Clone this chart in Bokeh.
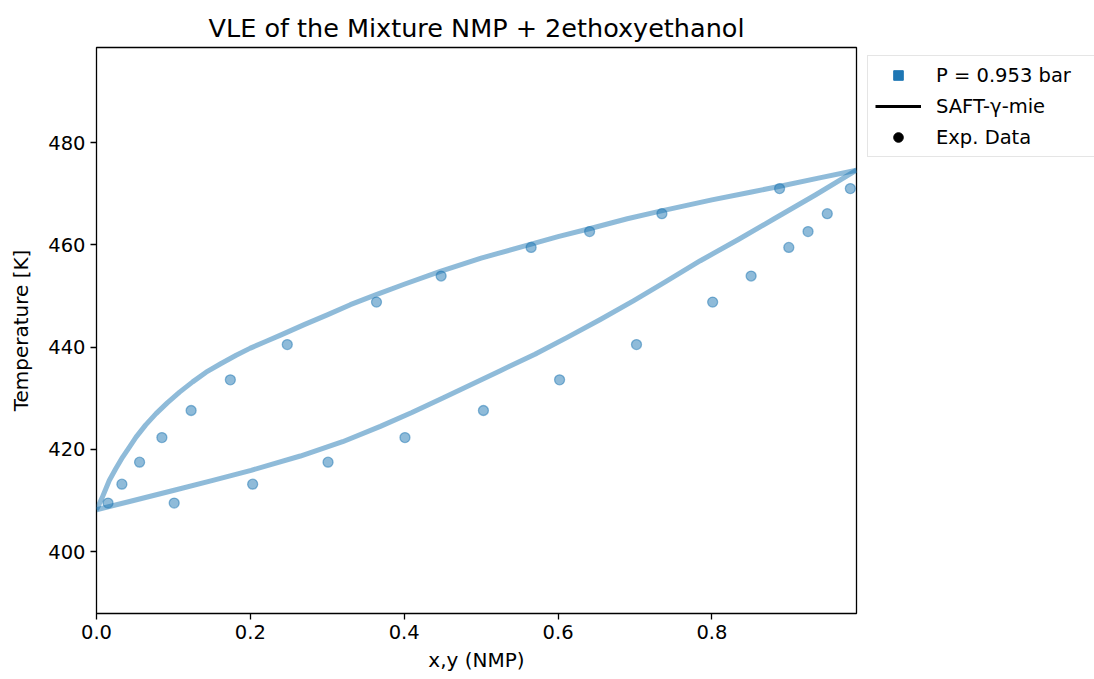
from bokeh.plotting import figure
from bokeh.layouts import row
from bokeh.models import Legend, LegendItem, FixedTicker, PrintfTickFormatter, Range1d
from bokeh.embed import file_html
from bokeh.resources import INLINE

# ---- data ----
# SAFT-gamma-Mie bubble curve (liquid composition x)
bubble_x = [0.0, 0.043, 0.101, 0.15, 0.201, 0.265, 0.32, 0.369, 0.41, 0.451, 0.525,
            0.57, 0.612, 0.655, 0.6985, 0.74, 0.785, 0.835, 0.881, 0.935, 0.988]
bubble_T = [408.2, 409.8, 412.0, 413.9, 415.9, 418.7, 421.5, 424.5, 427.2, 430.1, 435.4,
            438.6, 441.9, 445.4, 449.1, 452.8, 456.9, 461.1, 465.1, 469.8, 474.6]
# SAFT-gamma-Mie dew curve (vapour composition y)
dew_y = [0.0, 0.0036, 0.008, 0.0166, 0.025, 0.034, 0.043, 0.0514, 0.064, 0.0774, 0.092,
         0.108, 0.125, 0.1425, 0.162, 0.1815, 0.2, 0.22, 0.24, 0.27, 0.3, 0.33, 0.3646,
         0.4, 0.447, 0.5, 0.564, 0.6, 0.642, 0.69, 0.733, 0.8, 0.85, 0.887, 0.94, 0.988]
dew_T = [408.2, 409.3, 410.8, 413.9, 416.2, 418.5, 420.5, 422.4, 424.8, 427.0, 429.1,
         431.2, 433.2, 435.1, 436.8, 438.4, 439.8, 441.1, 442.4, 444.4, 446.3, 448.3, 450.3,
         452.3, 454.8, 457.4, 460.1, 461.6, 463.2, 465.1, 466.6, 468.8, 470.3, 471.4, 473.1, 474.6]
# experimental data
exp_T = [409.5, 413.2, 417.5, 422.3, 427.6, 433.6, 440.5, 448.8, 453.9, 459.5, 462.6, 466.1, 471.0]
exp_x = [0.101, 0.203, 0.301, 0.401, 0.503, 0.602, 0.702, 0.801, 0.851, 0.900, 0.925, 0.950, 0.980]
exp_y = [0.015, 0.033, 0.056, 0.085, 0.123, 0.174, 0.248, 0.364, 0.448, 0.565, 0.641, 0.735, 0.888]

legend_labels = ["P = 0.953 bar", "SAFT-γ-mie", "Exp. Data"]
x_ticks = [0.0, 0.2, 0.4, 0.6, 0.8]
y_ticks = [400, 420, 440, 460, 480]

C0 = "#1f77b4"
FONT = "DejaVu Sans"
FS = "19.5px"

p = figure(width=860, height=679, output_backend="svg", toolbar_location=None,
           x_range=Range1d(0.0, 0.988), y_range=Range1d(387.9, 498.6),
           min_border_left=96, min_border_right=4, min_border_top=47, min_border_bottom=66,
           title="VLE of the Mixture NMP + 2ethoxyethanol")

p.title.align = "center"
p.title.text_font = FONT
p.title.text_font_size = "25.5px"
p.title.text_font_style = "normal"
p.title.text_color = "black"
p.title.standoff = 10

p.xgrid.visible = False
p.ygrid.visible = False
p.outline_line_color = "black"
p.outline_line_width = 1.3
p.outline_line_alpha = 1.0
p.background_fill_color = "white"
p.border_fill_color = "white"

for ax in (p.xaxis[0], p.yaxis[0]):
    ax.axis_line_color = None
    ax.major_tick_line_color = "black"
    ax.major_tick_line_width = 1.3
    ax.major_tick_out = 6
    ax.major_tick_in = 0
    ax.minor_tick_line_color = None
    ax.major_label_text_font = FONT
    ax.major_label_text_font_size = FS
    ax.major_label_text_color = "black"
    ax.axis_label_text_font = FONT
    ax.axis_label_text_font_size = "20px"
    ax.axis_label_text_font_style = "normal"
    ax.axis_label_text_color = "black"

p.xaxis.ticker = FixedTicker(ticks=x_ticks)
p.xaxis.formatter = PrintfTickFormatter(format="%.1f")
p.yaxis.ticker = FixedTicker(ticks=y_ticks)
p.xaxis.axis_label = "x,y (NMP)"
p.yaxis.axis_label = "Temperature [K]"
p.xaxis.major_label_standoff = 5
p.yaxis.major_label_standoff = 5
p.xaxis.axis_label_standoff = 6
p.yaxis.axis_label_standoff = 12

# curves
p.line(bubble_x, bubble_T, line_color=C0, line_alpha=0.5, line_width=5, line_join="round")
p.line(dew_y, dew_T, line_color=C0, line_alpha=0.5, line_width=5, line_join="round")

# experimental points
p.scatter(exp_x, exp_T, marker="circle", size=10, fill_color=C0, fill_alpha=0.5,
          line_color=C0, line_alpha=0.5, line_width=1.3)
p.scatter(exp_y, exp_T, marker="circle", size=10, fill_color=C0, fill_alpha=0.5,
          line_color=C0, line_alpha=0.5, line_width=1.3)

# ---- legend panel to the right (its frame is aligned with the main frame: 47..613) ----
lg = figure(width=234, height=679, output_backend="svg", toolbar_location=None,
            x_range=Range1d(0, 1), y_range=Range1d(0, 1),
            x_axis_location=None, y_axis_location=None,
            min_border=0, min_border_left=0, min_border_right=0, min_border_top=47, min_border_bottom=66)
lg.xgrid.visible = False
lg.ygrid.visible = False
lg.outline_line_color = None
lg.background_fill_color = "white"
lg.border_fill_color = "white"

r_sq = lg.scatter([-10], [-10], marker="square", size=15, fill_color=C0, line_color=C0)
r_ln = lg.line([-10, -9], [-10, -10], line_color="black", line_width=3)
r_dt = lg.scatter([-10], [-10], marker="circle", size=8, fill_color="black", line_color="black")

legend = Legend(items=[LegendItem(label=legend_labels[0], renderers=[r_sq]),
                       LegendItem(label=legend_labels[1], renderers=[r_ln]),
                       LegendItem(label=legend_labels[2], renderers=[r_dt])],
                location=(7, 456))
legend.label_text_font = FONT
legend.label_text_font_size = FS
legend.label_text_color = "black"
legend.glyph_width = 46
legend.glyph_height = 24
legend.label_height = 24
legend.label_width = 160
legend.label_standoff = 15
legend.spacing = 7
legend.padding = 7
legend.margin = 0
legend.border_line_color = "#cccccc"
legend.border_line_width = 1.3
legend.background_fill_color = "white"
legend.background_fill_alpha = 0.8
lg.add_layout(legend, "center")

layout = row(p, lg, spacing=0)
open("out.html", "w").write(file_html(layout, INLINE))
